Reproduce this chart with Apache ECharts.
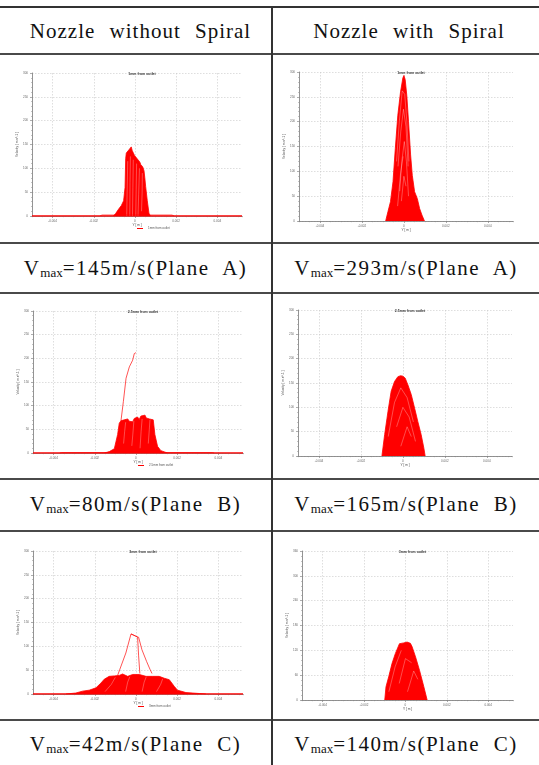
<!DOCTYPE html>
<html>
<head>
<meta charset="utf-8">
<script src="https://cdn.jsdelivr.net/npm/echarts@6/dist/echarts.min.js"></script>
<style>
html,body{margin:0;padding:0;background:#fff;}
#page{position:relative;width:539px;height:765px;overflow:hidden;background:#fff;}
#chart{position:absolute;left:0;top:0;width:539px;height:765px;}
.hl{position:absolute;left:0;width:539px;height:2px;background:#4a4a4a;}
.vl{position:absolute;left:271px;top:7px;width:1.5px;height:758px;background:#333;}
.cell{position:absolute;text-align:center;font-family:"Liberation Serif","Times New Roman",serif;font-size:21px;color:#111;line-height:24px;white-space:nowrap;}
.hd{letter-spacing:1px;word-spacing:8px;}
.vm{letter-spacing:1.5px;word-spacing:7px;}
.cell sub{font-size:13px;vertical-align:-2px;letter-spacing:0;}
.l{left:0;width:271px;}
.r{left:273px;width:266px;}
.hl-l{left:5px;width:271px;}
.hl-r{left:276px;width:266px;}
</style>
</head>
<body>
<div id="page">
  <div class="hl" style="top:6px;height:1.5px;background:#333"></div>
  <div class="hl" style="top:53px"></div>
  <div class="hl" style="top:242px"></div>
  <div class="hl" style="top:292px"></div>
  <div class="hl" style="top:478px"></div>
  <div class="hl" style="top:530px"></div>
  <div class="hl" style="top:719px"></div>
  <div class="vl"></div>

  <div class="cell hd hl-l" style="top:19px">Nozzle without Spiral</div>
  <div class="cell hd hl-r" style="top:19px">Nozzle with Spiral</div>
  <div class="cell vm l" style="top:256px">V<sub>max</sub>=145m/s(Plane A)</div>
  <div class="cell vm r" style="top:256px">V<sub>max</sub>=293m/s(Plane A)</div>
  <div class="cell vm l" style="top:492px">V<sub>max</sub>=80m/s(Plane B)</div>
  <div class="cell vm r" style="top:492px">V<sub>max</sub>=165m/s(Plane B)</div>
  <div class="cell vm l" style="top:732px">V<sub>max</sub>=42m/s(Plane C)</div>
  <div class="cell vm r" style="top:732px">V<sub>max</sub>=140m/s(Plane C)</div>

  <div id="chart"></div>
</div>
<script>
// Velocity profiles across the nozzle exit: [Y (m), velocity (m/s)]
const xTickValues = [-0.004, -0.002, 0, 0.002, 0.004];
const xRange = [-0.005, 0.0052];
const yMaxes = [300, 300, 300, 300, 300, 360];
const yIntervals = [50, 50, 50, 50, 50, 60];
const chartTitles = ['1mm from outlet', '1mm from outlet', '2.5mm from outlet',
                     '2.5mm from outlet', '3mm from outlet', '3mm from outlet'];

// Plane A, nozzle without spiral
const aNoSpiral = [[-0.00105,0],[-0.00094,5],[-0.00080,14],[-0.00066,22],[-0.00055,32],[-0.00048,60],
  [-0.00045,120],[-0.00042,132],[-0.00036,136],[-0.00029,139],[-0.00023,142],[-0.00018,145],
  [-0.00013,137],[-0.00008,134],[-0.00002,127],[0.00005,124],[0.00011,120],[0.00019,123],
  [0.00024,113],[0.00028,108],[0.00033,110],[0.00038,103],[0.00044,95],[0.00048,80],
  [0.00052,62],[0.00060,32],[0.00068,6],[0.00075,0]];
const aNoSpiralTail = [[-0.0017,0],[-0.0016,2],[0.0018,2],[0.0019,0]];
const aNoSpiralInner = [
  [[-0.00040,0],[-0.00038,50],[-0.00035,115]],
  [[-0.00025,0],[-0.00024,70],[-0.00022,125]],
  [[-0.00012,0],[-0.00010,60],[-0.00008,118]],
  [[0.00004,0],[0.00006,55],[0.00008,110]],
  [[0.00015,0],[0.00018,45],[0.00022,100]],
  [[0.00032,10],[0.00035,50],[0.00036,90]]
];

// Plane A, nozzle with spiral
const aSpiral = [[-0.00087,0],[-0.00076,19],[-0.00064,39],[-0.00052,79],[-0.00041,146],[-0.00029,213],
  [-0.00016,260],[-0.00005,288],[0,293],[0.00006,285],[0.00014,252],[0.00022,200],[0.00032,133],
  [0.00040,92],[0.00051,59],[0.00064,45],[0.00075,25],[0.00086,12],[0.00098,0]];
const aSpiralInner = [
  [[-0.00035,120],[-0.00022,200],[-0.00008,262],[0.00004,255],[0.00014,200],[0.00024,120]],
  [[-0.00028,110],[-0.00015,180],[-0.00002,225],[0.00010,190],[0.00020,110]],
  [[-0.00020,60],[-0.00010,120],[0.00002,160],[0.00012,120],[0.00022,50]],
  [[-0.00012,40],[0,90],[0.00010,70]],
  [[-0.00030,30],[-0.00016,95],[-0.00004,130]]
];

// Plane B, nozzle without spiral
const bNoSpiral = [[-0.00153,0],[-0.00129,3],[-0.00105,9],[-0.00089,39],[-0.00081,63],[-0.00073,68],
  [-0.00065,64],[-0.00057,70],[-0.00048,66],[-0.00040,72],[-0.00032,67],[-0.00024,70],[-0.00016,66],
  [-0.00008,73],[0,69],[0.00008,76],[0.00016,71],[0.00024,78],[0.00032,74],[0.00044,80],[0.00050,74],
  [0.00057,78],[0.00065,72],[0.00073,74],[0.00084,70],[0.00092,39],[0.00105,14],[0.00121,5],[0.00153,0]];
const bNoSpiralStray = [[-0.00073,67],[-0.00061,109],[-0.00048,158],[-0.00032,182],[-0.00016,196],
  [-0.00008,210],[0,212]];
const bNoSpiralTail = [[-0.0037,0],[-0.0036,1],[0.0037,1],[0.0038,0]];
const bNoSpiralInner = [
  [[-0.00060,20],[-0.00055,45],[-0.00050,65]],
  [[-0.00020,15],[-0.00015,40],[-0.00010,68]],
  [[0.00020,10],[0.00025,45],[0.00030,72]],
  [[0.00060,20],[0.00065,50],[0.00068,70]]
];

// Plane B, nozzle with spiral
const bSpiral = [[-0.00100,0],[-0.00087,44],[-0.00071,92],[-0.00056,133],[-0.00040,153],[-0.00024,163],
  [-0.00011,165],[0,164],[0.00011,160],[0.00024,146],[0.00040,126],[0.00056,98],[0.00071,71],
  [0.00087,44],[0.00100,16],[0.00106,0]];
const bSpiralInner = [
  [[-0.00070,40],[-0.00040,110],[-0.00010,140],[0.00020,120],[0.00050,70]],
  [[-0.00030,60],[0,100],[0.00030,80],[0.00060,30]],
  [[-0.00010,20],[0.00020,60],[0.00040,40]]
];

// Plane C, nozzle without spiral
const cNoSpiral = [[-0.00340,0],[-0.00292,2],[-0.00259,6],[-0.00227,8],[-0.00194,13],[-0.00170,23],
  [-0.00154,31],[-0.00130,37],[-0.00105,38],[-0.00081,39],[-0.00065,42],[-0.00040,37],[-0.00016,41],
  [0.00016,41],[0.00049,37],[0.00081,37],[0.00113,37],[0.00138,33],[0.00162,30],[0.00186,16],
  [0.00202,8],[0.00243,3],[0.00308,1],[0.00340,0]];
const cNoSpiralLoopA = [[-0.00089,39],[-0.00078,52],[-0.00049,86],[-0.00024,126],[0,121],[0.00013,119],
  [0.00029,93],[0.00052,68],[0.00068,52],[0.00078,43]];
const cNoSpiralLoopB = [[-0.00024,126],[-0.00003,122],[0.00008,119],[0.00013,80],[0.00019,43]];
const cNoSpiralInner = [
  [[-0.00150,5],[-0.00120,20],[-0.00100,35]],
  [[-0.00050,5],[-0.00040,25],[-0.00030,36]],
  [[0.00030,5],[0.00040,25],[0.00050,36]],
  [[0.00100,5],[0.00120,20],[0.00130,32]]
];

// Plane C, nozzle with spiral
const cSpiral = [[-0.00100,0],[-0.00094,32],[-0.00081,56],[-0.00065,88],[-0.00049,112],[-0.00029,136],
  [-0.00008,138],[0.00008,140],[0.00024,137],[0.00032,129],[0.00049,104],[0.00068,72],[0.00089,32],
  [0.00105,0]];
const cSpiralInner = [
  [[-0.00080,20],[-0.00050,80],[-0.00020,120]],
  [[-0.00030,40],[0,100],[0.00030,90]],
  [[0.00010,20],[0.00040,70],[0.00060,50]]
];

const baseline = [[xRange[0],0],[xRange[1],0]];

const panels = [
  {profile: aNoSpiral, inner: aNoSpiralInner, extras: [aNoSpiralTail], base: true},
  {profile: aSpiral, inner: aSpiralInner, extras: [], base: false},
  {profile: bNoSpiral, inner: bNoSpiralInner, extras: [bNoSpiralTail, bNoSpiralStray], base: true},
  {profile: bSpiral, inner: bSpiralInner, extras: [], base: false},
  {profile: cNoSpiral, inner: cNoSpiralInner, extras: [cNoSpiralLoopA, cNoSpiralLoopB], base: true},
  {profile: cSpiral, inner: cSpiralInner, extras: [], base: false}
];

// plot boxes inside the table cells
const boxes = [
  {left:32, top:73, width:210, height:143},
  {left:299, top:72, width:214, height:149},
  {left:33, top:311, width:210, height:142},
  {left:298, top:310, width:214, height:146},
  {left:33, top:551, width:210, height:143},
  {left:302, top:551, width:211, height:149}
];

const RED = '#ff0000';
const tiny = {fontSize: 3, color: '#666', fontFamily: 'Arial, Liberation Sans, sans-serif'};

const option = {
  animation: false,
  grid: [], xAxis: [], yAxis: [], title: [], legend: [], series: []
};

boxes.forEach((b, i) => {
  const cx = b.left + b.width / 2;
  option.grid.push({left: b.left, top: b.top, width: b.width, height: b.height, containLabel: false});
  option.title.push({
    text: chartTitles[i], left: cx, top: b.top - 6, textAlign: 'center',
    textStyle: {fontSize: 3.5, fontWeight: 'bold', color: '#333'}
  });
  // main x axis: labelled ticks and grid lines
  option.xAxis.push({
    type: 'value', gridIndex: i, min: xRange[0], max: xRange[1],
    name: 'Y [ m ]', nameLocation: 'middle', nameGap: 8,
    nameTextStyle: {fontSize: 3.2, color: '#444'},
    axisLine: {onZero: false, lineStyle: {color: '#777', width: 0.8}},
    axisTick: {show: true, customValues: xTickValues, length: 2, lineStyle: {color: '#777', width: 0.6}},
    axisLabel: {customValues: xTickValues, margin: 4, ...tiny, formatter: v => v === 0 ? '0' : String(v)},
    splitLine: {show: true, lineStyle: {color: '#c8c8c8', type: [1.5, 1.5], width: 0.6}}
  });
  // companion axis carrying the minor ticks
  option.xAxis.push({
    type: 'value', gridIndex: i, min: xRange[0], max: xRange[1], interval: 0.0005,
    position: 'bottom', axisLine: {show: false, onZero: false},
    axisTick: {show: true, length: 1.2, lineStyle: {color: '#888', width: 0.5}},
    axisLabel: {show: false}, splitLine: {show: false}
  });
  option.yAxis.push({
    type: 'value', gridIndex: i, min: 0, max: yMaxes[i], interval: yIntervals[i],
    position: 'left',
    name: 'Velocity [ m s^-1 ]', nameLocation: 'middle', nameGap: 10, nameRotate: 90,
    nameTextStyle: {fontSize: 3.2, color: '#444'},
    axisLine: {show: true, onZero: false, lineStyle: {color: '#777', width: 0.8}},
    axisTick: {show: true, length: 2, lineStyle: {color: '#777', width: 0.6}},
    minorTick: {show: true, splitNumber: 5, length: 1, lineStyle: {color: '#888', width: 0.5}},
    axisLabel: {margin: 4, ...tiny},
    splitLine: {show: true, lineStyle: {color: '#c8c8c8', type: [1.5, 1.5], width: 0.6}}
  });

  const p = panels[i];
  const xi = i * 2;
  const common = {type: 'line', xAxisIndex: xi, yAxisIndex: i, symbol: 'none', silent: true, animation: false};

  if (p.base) {
    option.series.push({...common, name: chartTitles[i], data: baseline,
      lineStyle: {color: RED, width: 1.6}, itemStyle: {color: RED}, z: 3});
  }
  option.series.push({...common, name: chartTitles[i], data: p.profile,
    lineStyle: {color: RED, width: 0.8}, itemStyle: {color: RED},
    areaStyle: {color: RED, opacity: 1, origin: 'start'}, z: 2});
  p.inner.forEach(d => option.series.push({...common, data: d,
    lineStyle: {color: '#ffffff', width: 0.5, opacity: 0.6}, z: 4}));
  p.extras.forEach(d => option.series.push({...common, data: d,
    lineStyle: {color: RED, width: 0.8, opacity: 0.85}, z: 5}));

  if (p.base) {
    option.legend.push({
      data: [chartTitles[i]], left: cx, top: b.top + b.height + 11,
      orient: 'horizontal', itemWidth: 6, itemHeight: 1, itemGap: 2, icon: 'rect',
      padding: 0, selectedMode: false,
      textStyle: {fontSize: 3, color: '#555', padding: [0, 0, 0, 0]}
    });
  }
});

const chart = echarts.init(document.getElementById('chart'), null, {renderer: 'canvas'});
chart.setOption(option);
</script>
</body>
</html>
